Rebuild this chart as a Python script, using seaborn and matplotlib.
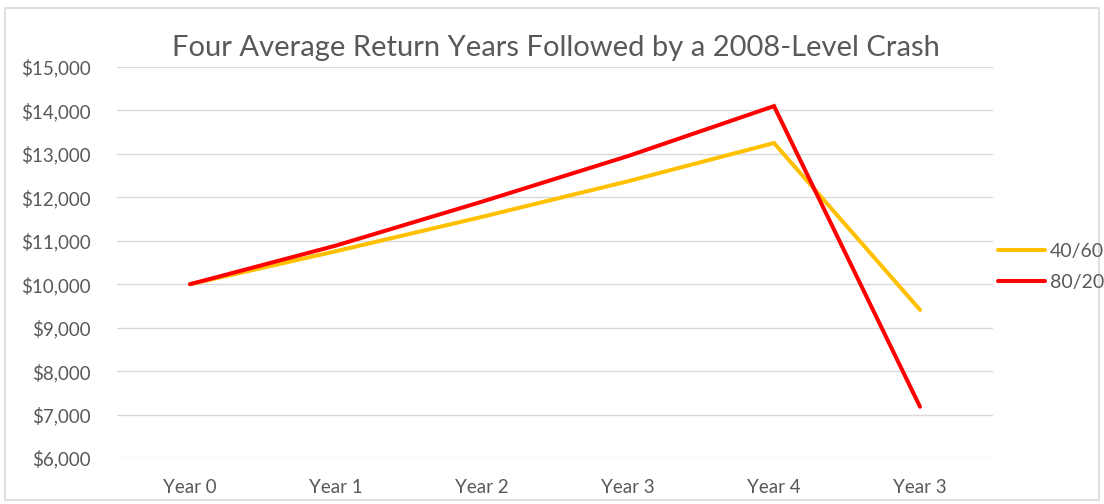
import matplotlib
matplotlib.use("Agg")
import matplotlib.pyplot as plt
import seaborn as sns
import pandas as pd
from matplotlib.patches import Rectangle
from matplotlib.lines import Line2D
from matplotlib.ticker import FuncFormatter

categories = ["Year 0", "Year 1", "Year 2", "Year 3", "Year 4", "Year 3"]
series_4060 = [10000, 10760, 11550, 12370, 13250, 9410]
series_8020 = [10000, 10890, 11900, 12950, 14100, 7180]
series_names = ["40/60", "80/20"]
y_ticks = [6000, 7000, 8000, 9000, 10000, 11000, 12000, 13000, 14000, 15000]
title = "Four Average Return Years Followed by a 2008-Level Crash"

rows = []
for name, vals in zip(series_names, [series_4060, series_8020]):
    for i, v in enumerate(vals):
        rows.append({"pos": i, "value": v, "series": name})
df = pd.DataFrame(rows)

sns.set_theme(style="white")
plt.rcParams["font.family"] = ["Lato", "DejaVu Sans"]
text_color = "#595959"

fig = plt.figure(figsize=(11.04, 5.04), dpi=100)
ax = fig.add_axes([117 / 1104, 1 - 458 / 504, (993 - 117) / 1104, (458 - 67) / 504])

palette = {"40/60": "#FFC000", "80/20": "#FF0000"}
lw = 2.9
sns.lineplot(data=df, x="pos", y="value", hue="series", palette=palette,
             linewidth=lw, ax=ax, legend=False, sort=False, zorder=3)
for line in ax.get_lines():
    line.set_solid_capstyle("round")
    line.set_solid_joinstyle("miter")

ax.set_xlim(-0.5, len(categories) - 0.5)
ax.set_ylim(y_ticks[0], y_ticks[-1])
ax.set_yticks(y_ticks)
ax.yaxis.set_major_formatter(FuncFormatter(lambda v, p: f"${v:,.0f}"))
ax.set_xticks(range(len(categories)))
ax.set_xticklabels(categories)
ax.set_xlabel("")
ax.set_ylabel("")
for s in ax.spines.values():
    s.set_visible(False)
ax.grid(axis="y", color="#d9d9d9", linewidth=1.0, zorder=0)
ax.grid(axis="x", visible=False)
ax.tick_params(axis="both", length=0, colors=text_color, labelsize=13.5)
ax.tick_params(axis="y", pad=19)
ax.tick_params(axis="x", pad=15)
for lab in ax.get_yticklabels() + ax.get_xticklabels():
    lab.set_color(text_color)

fig.text(556 / 1104, 1 - 48 / 504, title, ha="center", va="center",
         fontsize=21, color=text_color)

# legend
handles = [Line2D([0], [0], color=palette[n], linewidth=lw, solid_capstyle="round")
           for n in series_names]
leg = fig.legend(handles, series_names, loc="center left",
                 bbox_to_anchor=(998 / 1104, 1 - 267 / 504), frameon=False,
                 fontsize=14, handlelength=2.4, handletextpad=0.25,
                 labelspacing=0.75, borderaxespad=0, borderpad=0)
for t in leg.get_texts():
    t.set_color(text_color)

fig.patches.append(Rectangle((5 / 1104, 4 / 504), 1094 / 1104, 492 / 504,
                             transform=fig.transFigure, fill=False,
                             edgecolor="#d9d9d9", linewidth=1.2))

fig.savefig("out.png", dpi=100, facecolor="white")
